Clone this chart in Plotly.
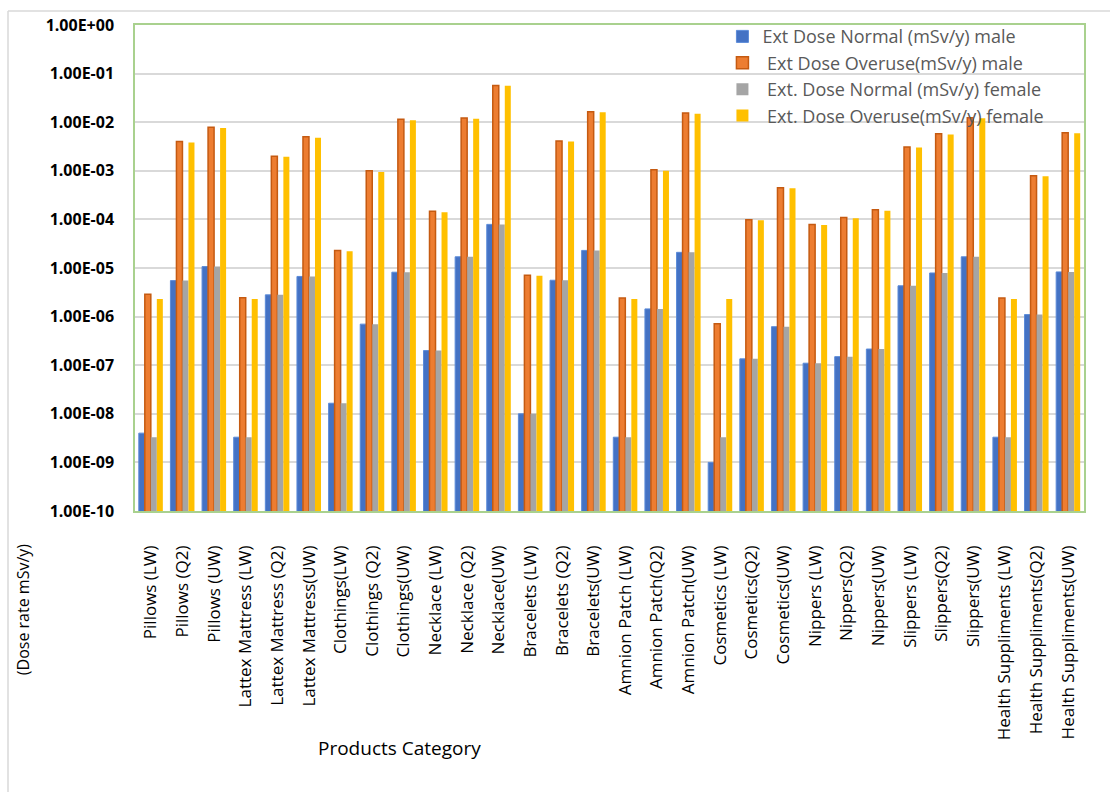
import plotly.graph_objects as go

categories = [
    "Pillows (LW)", "Pillows (Q2)", "Pillows (UW)",
    "Lattex Mattress (LW)", "Lattex Mattress (Q2)", "Lattex Mattress(UW)",
    "Clothings(LW)", "Clothings (Q2)", "Clothings(UW)",
    "Necklace (LW)", "Necklace (Q2)", "Necklace(UW)",
    "Bracelets (LW)", "Bracelets (Q2)", "Bracelets(UW)",
    "Amnion Patch (LW)", "Amnion Patch(Q2)", "Amnion Patch(UW)",
    "Cosmetics (LW)", "Cosmetics(Q2)", "Cosmetics(UW)",
    "Nippers (LW)", "Nippers(Q2)", "Nippers(UW)",
    "Slippers (LW)", "Slippers(Q2)", "Slippers(UW)",
    "Health Suppliments (LW)", "Health Suppliments(Q2)", "Health Suppliments(UW)",
]

normal_male = [
    4.0e-9, 5.5e-6, 1.07e-5,
    3.3e-9, 2.8e-6, 6.7e-6,
    1.65e-8, 7.0e-7, 8.2e-6,
    2.0e-7, 1.7e-5, 7.9e-5,
    1.0e-8, 5.6e-6, 2.3e-5,
    3.3e-9, 1.44e-6, 2.1e-5,
    1.0e-9, 1.35e-7, 6.2e-7,
    1.1e-7, 1.5e-7, 2.15e-7,
    4.3e-6, 7.9e-6, 1.7e-5,
    3.3e-9, 1.1e-6, 8.3e-6,
]
overuse_male = [
    2.9e-6, 4.0e-3, 7.9e-3,
    2.45e-6, 2.0e-3, 5.0e-3,
    2.3e-5, 1.0e-3, 1.15e-2,
    1.47e-4, 1.22e-2, 5.7e-2,
    7.1e-6, 4.1e-3, 1.65e-2,
    2.4e-6, 1.05e-3, 1.55e-2,
    7.1e-7, 9.8e-5, 4.5e-4,
    7.9e-5, 1.09e-4, 1.58e-4,
    3.1e-3, 5.8e-3, 1.24e-2,
    2.4e-6, 7.9e-4, 6.1e-3,
]
normal_female = [
    3.3e-9, 5.5e-6, 1.07e-5,
    3.3e-9, 2.8e-6, 6.7e-6,
    1.65e-8, 7.0e-7, 8.2e-6,
    2.0e-7, 1.7e-5, 7.9e-5,
    1.0e-8, 5.6e-6, 2.3e-5,
    3.3e-9, 1.44e-6, 2.1e-5,
    3.3e-9, 1.35e-7, 6.2e-7,
    1.1e-7, 1.5e-7, 2.15e-7,
    4.3e-6, 7.9e-6, 1.7e-5,
    3.3e-9, 1.1e-6, 8.3e-6,
]
overuse_female = [
    2.3e-6, 3.8e-3, 7.6e-3,
    2.3e-6, 1.95e-3, 4.8e-3,
    2.2e-5, 9.5e-4, 1.1e-2,
    1.4e-4, 1.18e-2, 5.6e-2,
    6.9e-6, 4.0e-3, 1.6e-2,
    2.3e-6, 1.0e-3, 1.5e-2,
    2.3e-6, 9.6e-5, 4.4e-4,
    7.7e-5, 1.05e-4, 1.5e-4,
    3.0e-3, 5.6e-3, 1.2e-2,
    2.3e-6, 7.7e-4, 5.9e-3,
]

series_names = [
    "Ext Dose Normal (mSv/y) male",
    " Ext Dose Overuse(mSv/y) male",
    " Ext. Dose Normal (mSv/y) female",
    " Ext. Dose Overuse(mSv/y) female",
]

y_tick_vals = [1e0, 1e-1, 1e-2, 1e-3, 1e-4, 1e-5, 1e-6, 1e-7, 1e-8, 1e-9, 1e-10]
y_tick_text = ["1.00E+00", "1.00E-01", "1.00E-02", "1.00E-03", "1.00E-04",
               "1.00E-05", "1.00E-06", "1.00E-07", "1.00E-08", "1.00E-09", "1.00E-10"]

colors = ["#4472C4", "#ED7D31", "#A5A5A5", "#FFC000"]
outlines = ["#5B8BD9", "#C55A11", "#A5A5A5", "#FFC000"]
outline_w = [1, 1.5, 0, 0]

fig = go.Figure()
for name, vals, c, oc, ow in zip(series_names,
                                 [normal_male, overuse_male, normal_female, overuse_female],
                                 colors, outlines, outline_w):
    fig.add_trace(go.Bar(
        x=categories, y=vals, name=name,
        marker=dict(color=c, line=dict(color=oc, width=ow)),
    ))

fig.update_layout(
    width=1110, height=792,
    paper_bgcolor="white", plot_bgcolor="white",
    margin=dict(l=135, r=26, t=25, b=281),
    barmode="group", bargap=0.24, bargroupgap=0,
    font=dict(family="Open Sans", color="black"),
    showlegend=True,
    legend=dict(
        x=0.619, y=1.014, xanchor="left", yanchor="top",
        bgcolor="rgba(0,0,0,0)",
        font=dict(size=18, color="#595959", family="Open Sans"),
        tracegroupgap=0,
    ),
    xaxis=dict(
        type="category",
        tickangle=-90,
        tickfont=dict(size=17, color="black", family="Open Sans"),
        showline=True, linecolor="#A9D18E", linewidth=1.5, mirror=True,
        ticks="outside", ticklen=26, tickcolor="rgba(0,0,0,0)",
        showgrid=False,
    ),
    yaxis=dict(
        type="log", range=[-10, 0],
        tickvals=y_tick_vals, ticktext=y_tick_text,
        tickfont=dict(size=16, color="black", family="Open Sans", weight="bold"),
        showgrid=True, gridcolor="#D9D9D9", gridwidth=1.5,
        showline=True, linecolor="#A9D18E", linewidth=1.5, mirror=True,
        ticks="outside", ticklen=16, tickcolor="rgba(0,0,0,0)",
        zeroline=False,
    ),
    annotations=[
        dict(text="(Dose rate mSv/y)", xref="paper", yref="paper",
             x=-0.118, y=-0.204, textangle=-90, showarrow=False,
             font=dict(size=16, color="black", family="Open Sans"),
             xanchor="center", yanchor="middle"),
        dict(text="Products Category", xref="paper", yref="paper",
             x=0.279, y=-0.488, showarrow=False,
             font=dict(size=19, color="black", family="Open Sans"),
             xanchor="center", yanchor="middle"),
    ],
    shapes=[
        dict(type="line", xref="paper", yref="paper",
             x0=(8 - 135) / 949, x1=(8 - 135) / 949,
             y0=(511 - 11) / 486, y1=(511 - 800) / 486,
             line=dict(color="#D9D9D9", width=1.5)),
        dict(type="line", xref="paper", yref="paper",
             x0=(8 - 135) / 949, x1=(1115 - 135) / 949,
             y0=(511 - 11) / 486, y1=(511 - 11) / 486,
             line=dict(color="#D9D9D9", width=1.5)),
    ],
)

fig.write_html("out.html")
